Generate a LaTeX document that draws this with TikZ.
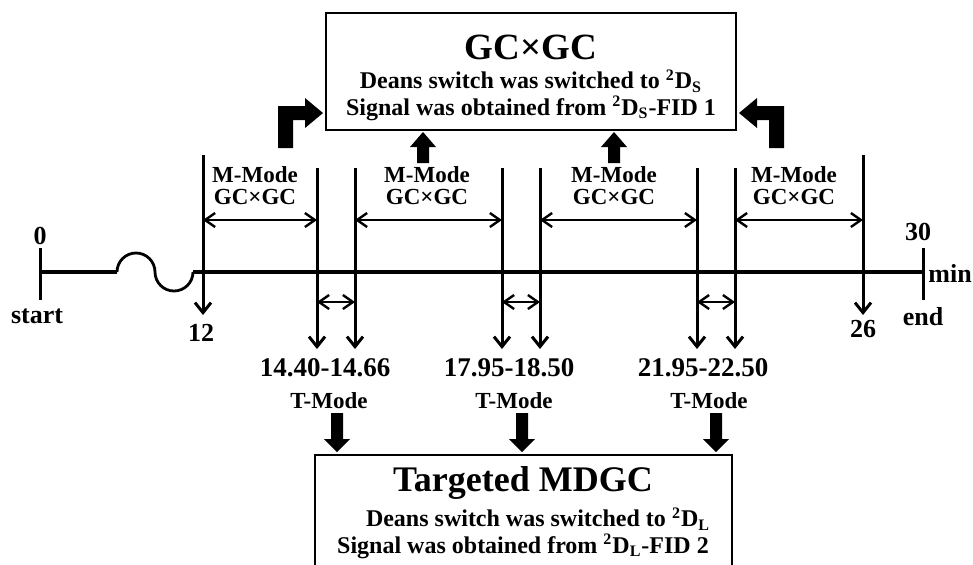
\documentclass[tikz,border=0pt]{standalone}
\usepackage{fontspec}
\setmainfont{Liberation Serif}
\usetikzlibrary{arrows.meta}
\tikzset{
	axisline/.style={line width=2pt},
	evt/.style={line width=1.5pt, -{Straight Barb[length=5pt,width=8pt]}},
	span/.style={line width=1.2pt, {Straight Barb[length=5pt,width=7pt]}-{Straight Barb[length=5pt,width=7pt]}},
	fatarrow/.style={fill=black, draw=none},
	ticklbl/.style={font=\fontsize{13}{15}\selectfont\bfseries},
	modelbl/.style={font=\fontsize{11.5}{11}\selectfont\bfseries, align=center},
	timelbl/.style={font=\fontsize{13.5}{15}\selectfont\bfseries},
	boxtitle/.style={font=\fontsize{18.5}{20}\selectfont\bfseries},
	boxline/.style={font=\fontsize{12}{14}\selectfont\bfseries}
}

\begin{document}
\begin{tikzpicture}[x=0.5pt, y=-0.5pt]
	\useasboundingbox (0,0) rectangle (973,564);
	% time axis
	\coordinate (axL) at (40,272);
	\coordinate (axR) at (923,272);
	\draw[axisline] (axL) -- (117,272);
	\draw[line width=1.4pt] (117,272) arc[start angle=180, end angle=360, radius=19]
		arc[start angle=180, end angle=0, radius=19];
	\draw[axisline] (193,272) -- (axR);
	\draw[line width=1.5pt] (40,248) -- (40,300);
	\draw[line width=1.5pt] (923,248) -- (923,300);
	\node[ticklbl] (zero) at (40,236) {0};
	\node[ticklbl] (start) at (37,316) {start};
	\node[ticklbl] (thirty) at (918,232) {30};
	\node[ticklbl, anchor=west, inner sep=0pt] (min) at (928,273) {min};
	\node[ticklbl] (end) at (923,317) {end};
	% switching times
	\coordinate (t12) at (203,155);
	\coordinate (t1440) at (317,168);
	\coordinate (t1466) at (355,168);
	\coordinate (t1795) at (502,168);
	\coordinate (t1850) at (540,168);
	\coordinate (t2195) at (697,168);
	\coordinate (t2250) at (735,168);
	\coordinate (t26) at (863,155);
	\coordinate (mrow) at (0,220);
	\coordinate (trow) at (0,302);
	\coordinate (shortend) at (0,315);
	\coordinate (longend) at (0,349);
	\draw[evt] (t12) -- (t12 |- shortend);
	\draw[evt] (t26) -- (t26 |- shortend);
	\draw[evt] (t1440) -- (t1440 |- longend);
	\draw[evt] (t1466) -- (t1466 |- longend);
	\draw[evt] (t1795) -- (t1795 |- longend);
	\draw[evt] (t1850) -- (t1850 |- longend);
	\draw[evt] (t2195) -- (t2195 |- longend);
	\draw[evt] (t2250) -- (t2250 |- longend);
	\node[ticklbl] (twelve) at (201,333) {12};
	\node[ticklbl] (twentysix) at (863,329) {26};
	% M-Mode spans
	\draw[span] (t12 |- mrow) -- (t1440 |- mrow);
	\draw[span] (t1466 |- mrow) -- (t1795 |- mrow);
	\draw[span] (t1850 |- mrow) -- (t2195 |- mrow);
	\draw[span] (t2250 |- mrow) -- (t26 |- mrow);
	\node[modelbl] (m1) at (255,186) {M-Mode\\GC×GC};
	\node[modelbl] (m2) at (427,186) {M-Mode\\GC×GC};
	\node[modelbl] (m3) at (614,186) {M-Mode\\GC×GC};
	\node[modelbl] (m4) at (794,186) {M-Mode\\GC×GC};
	% T-Mode spans
	\draw[span] (t1440 |- trow) -- (t1466 |- trow);
	\draw[span] (t1795 |- trow) -- (t1850 |- trow);
	\draw[span] (t2195 |- trow) -- (t2250 |- trow);
	\node[timelbl] (w1) at (325,368) {14.40-14.66};
	\node[timelbl] (w2) at (509,368) {17.95-18.50};
	\node[timelbl] (w3) at (703,368) {21.95-22.50};
	\node[modelbl] (tm1) at (329,401) {T-Mode};
	\node[modelbl] (tm2) at (514,401) {T-Mode};
	\node[modelbl] (tm3) at (709,401) {T-Mode};
	% GCxGC box
	\draw[line width=1pt] (326,13) rectangle (736,130);
	\node[boxtitle] (gctitle) at (531,47) {GC×GC};
	\node[boxline] (gcl1) at (531,81) {Deans switch was switched to \textsuperscript{2}D\textsubscript{S}};
	\node[boxline] (gcl2) at (531,108) {Signal was obtained from \textsuperscript{2}D\textsubscript{S}-FID 1};
	% MDGC box
	\draw[line width=1pt] (315,570) -- (315,455) -- (732,455) -- (732,570);
	\node[boxtitle, font=\fontsize{18}{20}\selectfont\bfseries] (mdtitle) at (523,483) {Targeted MDGC};
	\node[boxline] (mdl1) at (538,519) {Deans switch was switched to \textsuperscript{2}D\textsubscript{L}};
	\node[boxline] (mdl2) at (523,546) {Signal was obtained from \textsuperscript{2}D\textsubscript{L}-FID 2};
	% fat arrows up
	\fill[fatarrow] (278,148) -- (278,106) -- (305,106) -- (305,98) -- (323,113) -- (305,128) -- (305,120) -- (293,120) -- (293,148) -- cycle;
	\fill[fatarrow] (784,148) -- (784,106) -- (757,106) -- (757,98) -- (739,113) -- (757,128) -- (757,120) -- (769,120) -- (769,148) -- cycle;
	\fill[fatarrow] (423,132) -- (436,147) -- (429,147) -- (429,163) -- (417,163) -- (417,147) -- (410,147) -- cycle;
	\fill[fatarrow] (614,132) -- (627,147) -- (620,147) -- (620,163) -- (608,163) -- (608,147) -- (601,147) -- cycle;
	% fat arrows down
	\fill[fatarrow] (337,452) -- (350,439) -- (343,439) -- (343,413) -- (331,413) -- (331,439) -- (324,439) -- cycle;
	\fill[fatarrow] (522,452) -- (535,439) -- (528,439) -- (528,413) -- (516,413) -- (516,439) -- (509,439) -- cycle;
	\fill[fatarrow] (716,452) -- (729,439) -- (722,439) -- (722,413) -- (710,413) -- (710,439) -- (703,439) -- cycle;
\end{tikzpicture}
\end{document}
